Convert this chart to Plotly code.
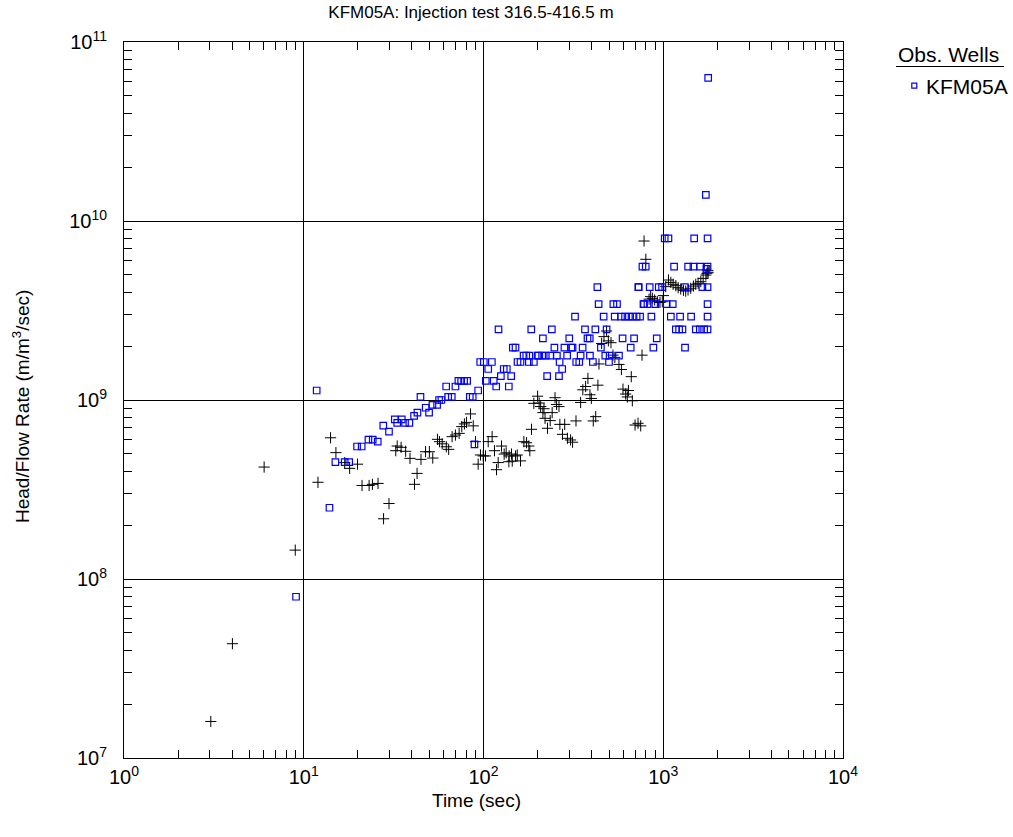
import plotly.graph_objects as go

# Observation well KFM05A: head/flow rate vs. time (blue squares)
obs_time = [
    9.06, 11.8, 13.9, 15.0, 16.9, 17.9, 19.8, 21.0, 22.9, 24.2, 25.8, 27.7, 29.8,
    32.1, 35.1, 33.1, 36.6, 38.7, 41.1, 42.9, 44.6, 47.7, 49.8, 52.0, 55.2, 56.6,
    58.3, 62.0, 69.8, 63.6, 66.6, 72.5, 75.1, 78.0, 81.1, 83.9, 87.1, 89.1, 93.4,
    95.9, 100.4, 103, 106.2, 111.3, 114, 117.7, 121.2, 124.9, 129.6, 134.8, 138.3,
    142.6, 145.6, 150.7, 154.6, 160.7, 167.1, 172.9, 179.8, 178.8, 190.6, 184.4, 199.9,
    430, 727, 437, 528, 553, 776,
    323, 466, 537, 582, 613, 644, 676, 711, 743,
    240, 367, 419, 484,
    214, 300, 379, 390, 594, 688,
    248, 282, 308, 313, 356, 450, 659,
    202, 212, 222, 235, 256, 292, 347, 391, 476, 503, 567,
    265, 328, 341, 406, 499,
    274, 226, 263,
    1019, 1069, 1486, 1764,
    766, 799, 1149, 1375, 1472, 1604, 1764, 1740,
    730, 841, 944, 985, 1320, 1651, 1764,
    782, 817, 904, 1045, 1129, 1764,
    859, 1102, 1241, 1429, 1764,
    1175, 1225, 1279, 1517, 1597, 1688, 1764,
    920, 881, 1322,
    1778, 1726,
]
obs_ratio = [
    7.96e7, 1.13e9, 2.5e8, 4.5e8, 4.5e8, 4.5e8, 5.5e8, 5.5e8, 6.0e8, 6.0e8, 5.85e8, 7.2e8, 6.65e8,
    7.8e8, 7.8e8, 7.45e8, 7.45e8, 7.45e8, 8.15e8, 8.5e8, 1.04e9, 9.05e8, 8.5e8, 9.4e8, 9.4e8, 1.0e9,
    1.0e9, 1.19e9, 1.19e9, 1.04e9, 1.04e9, 1.28e9, 1.28e9, 1.28e9, 1.28e9, 1.04e9, 1.04e9, 5.65e8, 1.13e9,
    1.63e9, 1.63e9, 1.28e9, 1.49e9, 1.63e9, 1.28e9, 1.19e9, 2.48e9, 1.36e9, 1.49e9, 1.49e9, 1.19e9,
    1.36e9, 1.96e9, 1.96e9, 1.63e9, 1.63e9, 1.77e9, 1.77e9, 1.77e9, 1.63e9, 1.63e9, 2.48e9, 1.77e9,
    4.27e9, 4.27e9, 3.43e9, 3.43e9, 3.43e9, 3.43e9,
    2.92e9, 2.92e9, 2.92e9, 2.92e9, 2.92e9, 2.92e9, 2.92e9, 2.92e9, 2.92e9,
    2.48e9, 2.48e9, 2.48e9, 2.48e9,
    2.21e9, 2.21e9, 2.21e9, 2.21e9, 2.21e9, 2.21e9,
    1.96e9, 1.96e9, 1.96e9, 1.96e9, 1.96e9, 1.96e9, 1.96e9,
    1.77e9, 1.77e9, 1.77e9, 1.77e9, 1.77e9, 1.77e9, 1.77e9, 1.77e9, 1.77e9, 1.77e9, 1.77e9,
    1.63e9, 1.63e9, 1.63e9, 1.63e9, 1.63e9,
    1.49e9, 1.36e9, 1.36e9,
    8.0e9, 8.0e9, 8.0e9, 8.0e9,
    5.56e9, 5.56e9, 5.56e9, 5.56e9, 5.56e9, 5.56e9, 5.56e9, 5.4e9,
    4.27e9, 4.27e9, 4.27e9, 4.27e9, 4.27e9, 4.27e9, 4.27e9,
    3.43e9, 3.43e9, 3.43e9, 3.43e9, 3.43e9, 3.43e9,
    2.92e9, 2.92e9, 2.92e9, 2.92e9, 2.92e9,
    2.48e9, 2.48e9, 2.48e9, 2.48e9, 2.48e9, 2.48e9, 2.48e9,
    2.21e9, 1.96e9, 1.96e9,
    6.3e10, 1.40e10,
]

# Derivative of head/flow rate (black crosses)
deriv_time = [
    3.04, 4.01, 6.02, 8.97, 12.0, 14.1, 15.1, 16.9, 18.0, 19.9,
    21.1, 23.1, 24.1, 25.9, 27.8, 29.8, 32.5, 33.1, 34.8, 36.9,
    39.0, 41.3, 42.7, 44.9, 47.6, 50.0, 52.2, 55.5, 56.9, 58.9,
    62.1, 64.0, 66.9, 69.8, 73.2, 75.7, 78.3, 80.4, 84.7, 87.7,
    90.2, 93.4, 96.2, 99.6, 102.6, 106.2, 111.7, 115.1, 118.1, 120.7,
    126, 130.3, 133.7, 138.9, 143.2, 138.4, 144.5, 150.7, 154.1, 160.7,
    167.7, 173.6, 178.7, 181, 185, 190.6, 200, 204, 208, 214,
    217, 220, 227, 235, 241, 250, 255, 263, 266, 283,
    275, 293, 305, 313, 327, 347, 357, 370, 381, 391,
    398, 408, 421, 433, 439, 454, 468, 484, 495, 512,
    525, 538, 567, 585, 664, 762, 597, 618, 640, 631,
    673, 697, 724, 749, 782, 800,
    834, 851, 870, 896, 927, 959, 988, 1002,
    1033, 1069, 1102, 1135, 1175, 1210, 1251, 1295, 1333, 1374,
    1422, 1472, 1517, 1563, 1618, 1667, 1726, 1750, 1770, 1778,
]
deriv_ratio = [
    1.6e7, 4.35e7, 4.22e8, 1.45e8, 3.47e8, 6.15e8, 5.08e8, 4.47e8, 4.15e8, 4.38e8,
    3.33e8, 3.33e8, 3.38e8, 3.42e8, 2.17e8, 2.64e8, 5.21e8, 5.53e8, 5.44e8, 5.17e8,
    4.72e8, 3.38e8, 3.89e8, 4.66e8, 5.14e8, 5.14e8, 4.74e8, 6.03e8, 5.85e8, 5.69e8,
    5.48e8, 5.30e8, 6.24e8, 6.37e8, 6.51e8, 7.1e8, 7.35e8, 7.5e8, 8.36e8, 7.17e8,
    5.85e8, 4.38e8, 4.93e8, 4.87e8, 4.87e8, 5.85e8, 6.24e8, 5.21e8, 4.08e8, 4.47e8,
    5.53e8, 4.99e8, 5.07e8, 4.87e8, 4.99e8, 4.52e8, 4.56e8, 4.87e8, 4.93e8, 4.57e8,
    5.85e8, 5.77e8, 5.53e8, 5.21e8, 6.86e8, 9.58e8, 1.05e9, 9.62e8, 9.19e8, 8.5e8,
    8.94e8, 7.9e8, 6.95e8, 7.67e8, 8.5e8, 1.03e9, 9.44e8, 9.19e8, 7.31e8, 7.31e8,
    6.43e8, 6.11e8, 5.98e8, 5.81e8, 7.64e8, 9.69e8, 1.14e9, 1.19e9, 1.32e9, 1.07e9,
    1.02e9, 7.64e8, 8.07e8, 1.21e9, 1.59e9, 2.07e9, 2.26e9, 2.43e9, 2.14e9, 2.09e9,
    1.78e9, 1.73e9, 1.58e9, 1.48e9, 1.35e9, 1.78e9, 1.15e9, 1.08e9, 1.13e9, 1.04e9,
    9.9e8, 7.25e8, 7.41e8, 7.17e8, 7.73e9, 6.11e9,
    3.66e9, 3.78e9, 3.70e9, 3.62e9, 3.54e9, 3.51e9, 3.54e9, 3.83e9,
    4.30e9, 4.68e9, 4.54e9, 4.43e9, 4.35e9, 4.24e9, 4.17e9, 4.10e9, 4.06e9, 4.12e9,
    4.21e9, 4.33e9, 4.43e9, 4.49e9, 4.58e9, 4.78e9, 4.99e9, 5.1e9, 5.3e9, 5.17e9,
]

x_exps = [0, 1, 2, 3, 4]
y_exps = [7, 8, 9, 10, 11]

FONT = "Liberation Sans, Arial, sans-serif"
W, H = 1013, 837
L, R, T, B = 124, 170, 42, 79
pw, ph = W - L - R, H - T - B


def px_x(px):
    """Horizontal pixel position -> paper coordinate."""
    return (px - L) / pw


def px_y(py):
    """Vertical pixel position (from top) -> paper coordinate."""
    return (H - B - py) / ph


fig = go.Figure()

fig.add_trace(go.Scatter(
    x=deriv_time, y=deriv_ratio, mode="markers", showlegend=False,
    marker=dict(symbol="cross-thin", size=8, color="black",
                line=dict(color="black", width=1)),
    hoverinfo="x+y",
))
fig.add_trace(go.Scatter(
    x=obs_time, y=obs_ratio, mode="markers", name="KFM05A", showlegend=False,
    marker=dict(symbol="square-open", size=6.5, color="#0000ff",
                line=dict(color="#0000ff", width=1.2)),
))

axis_common = dict(
    type="log",
    showline=True, linecolor="black", linewidth=1, mirror="ticks",
    showgrid=True, gridcolor="black", gridwidth=1,
    ticks="inside", ticklen=10, tickcolor="black", tickwidth=1,
    minor=dict(ticks="inside", ticklen=8, tickcolor="black", tickwidth=1,
               dtick="D1", showgrid=False),
    zeroline=False,
    tickfont=dict(family=FONT, size=20, color="black"),
)

fig.update_xaxes(
    **axis_common,
    range=[0, 4],
    tickvals=[10 ** e for e in x_exps],
    ticktext=[f"10<sup>{e}</sup>" for e in x_exps],
    ticklabelstandoff=1,
)
fig.update_yaxes(
    **axis_common,
    range=[7, 11],
    tickvals=[10 ** e for e in y_exps],
    ticktext=[f"10<sup>{e}</sup>" for e in y_exps],
    ticklabelstandoff=12,
)

# Axis titles
fig.add_annotation(
    text="Time (sec)", xref="paper", yref="paper",
    x=px_x(476), y=px_y(800),
    xanchor="center", yanchor="middle", showarrow=False,
    font=dict(family=FONT, size=19, color="black"),
)
fig.add_annotation(
    text="Head/Flow Rate (m/m<sup>3</sup>/sec)", xref="paper", yref="paper",
    x=px_x(21), y=px_y(407), textangle=-90,
    xanchor="center", yanchor="middle", showarrow=False,
    font=dict(family=FONT, size=19, color="black"),
)

# Legend block: heading, underline, symbol and well name
fig.add_annotation(
    text="Obs. Wells", xref="paper", yref="paper",
    x=px_x(896), y=px_y(54), xanchor="left", yanchor="middle",
    showarrow=False, font=dict(family=FONT, size=21, color="black"),
)
fig.add_shape(
    type="line", xref="paper", yref="paper",
    x0=px_x(896), x1=px_x(1004), y0=px_y(66.5), y1=px_y(66.5),
    line=dict(color="black", width=1),
)
fig.add_shape(
    type="rect", xref="paper", yref="paper",
    x0=px_x(911.8), x1=px_x(916.8), y0=px_y(83.2), y1=px_y(88.2),
    line=dict(color="#0000ff", width=1.2), fillcolor="rgba(0,0,0,0)",
)
fig.add_annotation(
    text="KFM05A", xref="paper", yref="paper",
    x=px_x(924), y=px_y(86), xanchor="left", yanchor="middle",
    showarrow=False, font=dict(family=FONT, size=21, color="black"),
)

fig.update_layout(
    width=W, height=H,
    margin=dict(l=L, r=R, t=T, b=B),
    paper_bgcolor="white", plot_bgcolor="white",
    font=dict(family=FONT, size=16, color="black"),
    title=dict(
        text="KFM05A: Injection test 316.5-416.5 m",
        x=471 / W, xref="container", xanchor="center",
        y=1 - 12 / H, yref="container", yanchor="middle",
        font=dict(family=FONT, size=17, color="black"),
    ),
    showlegend=False,
)

fig.write_html("out.html")
